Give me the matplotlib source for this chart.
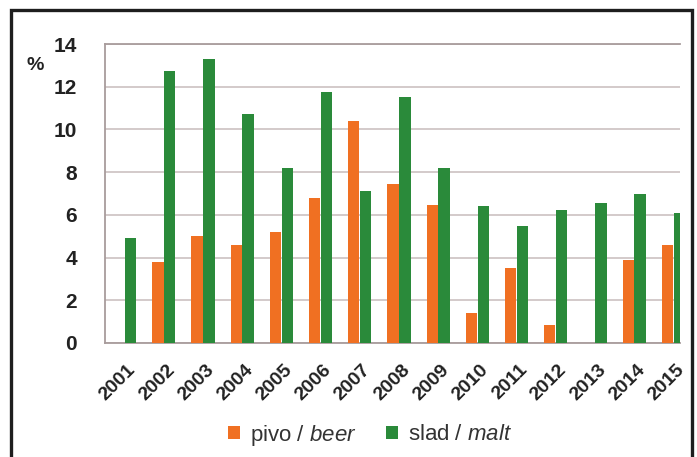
import matplotlib
matplotlib.use("Agg")
import matplotlib.pyplot as plt
from matplotlib.patches import Rectangle, Patch
import numpy as np

plt.rcParams["font.family"] = ["Liberation Sans", "DejaVu Sans"]
plt.rcParams["mathtext.fontset"] = "custom"
plt.rcParams["mathtext.it"] = "Liberation Sans:italic"
plt.rcParams["mathtext.rm"] = "Liberation Sans"

years = ["2001", "2002", "2003", "2004", "2005", "2006", "2007", "2008",
         "2009", "2010", "2011", "2012", "2013", "2014", "2015"]
beer = [0.0, 3.8, 5.0, 4.6, 5.2, 6.8, 10.4, 7.45, 6.45, 1.4, 3.5, 0.85, 0.0, 3.9, 4.6]
malt = [4.9, 12.75, 13.3, 10.7, 8.2, 11.75, 7.1, 11.5, 8.2, 6.4, 5.5, 6.25, 6.55, 7.0, 6.1]
yticks = [0, 2, 4, 6, 8, 10, 12, 14]

ORANGE = "#f07022"
GREEN = "#2a8a3a"
TXT = "#222222"
W, H = 697, 457

fig = plt.figure(figsize=(W / 100, H / 100), dpi=100)
fig.patch.set_facecolor("white")

# outer frame
fig.add_artist(Rectangle((11 / W, -0.05), 681 / W, 1.05 - 10 / H,
                         transform=fig.transFigure, fill=False,
                         edgecolor="#1e1e1e", linewidth=2.4, zorder=10))

ax = fig.add_axes([105 / W, 1 - 343 / H, 575 / W, 299 / H])
x = np.arange(len(years))
bw = 0.29
off = 0.152
ax.bar(x - off, beer, width=bw, color=ORANGE, zorder=3)
ax.bar(x + off, malt, width=bw, color=GREEN, zorder=3)

ax.set_xlim(-0.5, 14.17)
ax.set_ylim(0, 14)
ax.set_yticks(yticks)
ax.set_yticklabels([str(v) for v in yticks])
ax.yaxis.grid(True, color="#d3caca", linewidth=1.4, zorder=0)
ax.set_axisbelow(True)

for side in ["left", "bottom", "top"]:
    ax.spines[side].set_color("#a89c9c")
    ax.spines[side].set_linewidth(1.3)
ax.spines["right"].set_visible(False)

ax.tick_params(axis="y", length=0, pad=20, labelsize=15, labelcolor=TXT)
ax.tick_params(axis="x", length=0, pad=13, labelsize=14, labelcolor=TXT)
for lab in ax.get_yticklabels():
    lab.set_fontweight("bold")
ax.set_xticks(x + 0.06)
ax.set_xticklabels(years, rotation=45, ha="right", rotation_mode="anchor",
                   fontweight="bold")

fig.text(35 / W, 1 - 66 / H, "%", fontsize=14, fontweight="bold",
         color=TXT, ha="center", va="center")

handles = [Patch(facecolor=ORANGE), Patch(facecolor=GREEN)]
labels = ["pivo / $\\mathit{beer}$", "slad / $\\mathit{malt}$"]
fig.legend(handles, labels, loc="center", bbox_to_anchor=(370 / W, 1 - 435 / H),
           ncol=2, frameon=False, fontsize=16, handlelength=0.55, handleheight=0.55,
           handletextpad=0.45, columnspacing=1.3, labelcolor="#333333",
           borderpad=0.0)

fig.savefig("out.png", dpi=100)
